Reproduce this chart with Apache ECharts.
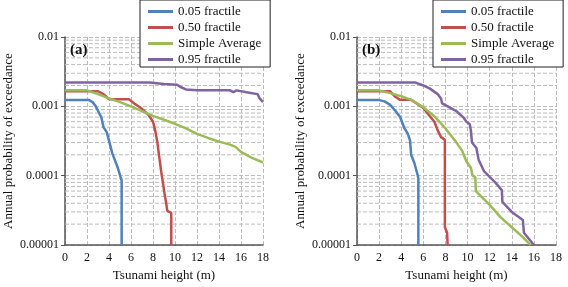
<!DOCTYPE html>
<html>
<head>
<meta charset="utf-8">
<script src="https://cdn.jsdelivr.net/npm/echarts@6/dist/echarts.min.js"></script>
<style>
html, body { margin: 0; padding: 0; background: #fff; }
#main { width: 568px; height: 287px; }
</style>
</head>
<body>
<div id="main"></div>
<script>
// series names / colours (Excel 2007 palette)
var seriesNames = ['0.05 fractile', '0.50 fractile', 'Simple Average', '0.95 fractile'];
var seriesColors = ['#4F81BD', '#C0504D', '#9BBB59', '#8064A2'];

// axis ticks
var yTickLabels = ['0.00001', '0.0001', '0.001', '0.01'];
var yMinorSteps = [2, 3, 4, 5, 6, 7, 8, 9];

// panel (a) : [tsunami height (m), annual probability]
var a05 = [[0, 0.00123], [2.2, 0.00123], [2.5, 0.00115], [2.8, 0.001], [3.1, 0.0008], [3.3, 0.0007],
  [3.5, 0.0005], [3.8, 0.00042], [4.0, 0.00032], [4.3, 0.00021], [4.8, 0.00013], [5.15, 0.000085], [5.15, 0.00001]];
var a50 = [[0, 0.00165], [3, 0.00165], [3.5, 0.0015], [4, 0.00127], [5.8, 0.00127], [6.3, 0.0011], [7, 0.00092],
  [7.6, 0.00075], [8, 0.0006], [8.2, 0.00045], [8.4, 0.0003], [8.6, 0.00017], [8.8, 0.0001], [8.9, 0.00008],
  [9.05, 0.000055], [9.2, 0.00004], [9.3, 0.000031], [9.66, 0.000029], [9.66, 0.00001]];
var aAvg = [[0, 0.0017], [2, 0.0017], [3, 0.0015], [4, 0.0013], [5, 0.00115], [6, 0.001], [7, 0.00085],
  [8, 0.00073], [9, 0.00064], [10, 0.00056], [11, 0.00048], [12, 0.0004], [13, 0.00035], [14, 0.00031],
  [15, 0.00028], [15.5, 0.00026], [16, 0.00022], [16.5, 0.0002], [17, 0.00018], [18, 0.000155]];
var a95 = [[0, 0.0022], [7.7, 0.0022], [9, 0.0021], [10.2, 0.00205], [10.5, 0.0019], [11, 0.00175], [12, 0.0017],
  [15, 0.0017], [15.3, 0.0016], [15.6, 0.0017], [16.5, 0.0016], [17.5, 0.0015], [17.7, 0.0013], [17.9, 0.0012],
  [18, 0.00115]];

// panel (b)
var b05 = [[0, 0.00123], [2, 0.00123], [2.5, 0.00118], [3, 0.00105], [3.5, 0.00085], [3.9, 0.0007], [4.3, 0.00048],
  [4.6, 0.0004], [4.8, 0.00032], [4.9, 0.0002], [5.2, 0.00015], [5.5, 0.0001], [5.55, 0.00009], [5.55, 0.00001]];
var b50 = [[0, 0.00165], [3, 0.00165], [3.4, 0.0014], [3.9, 0.00124], [4.9, 0.00124], [5.4, 0.0011], [6, 0.00095],
  [6.5, 0.00075], [7, 0.0006], [7.3, 0.00045], [7.6, 0.00036], [7.95, 0.00033], [7.95, 0.000018], [8.15, 0.000015],
  [8.2, 0.00001]];
var bAvg = [[0, 0.0017], [2, 0.0017], [3, 0.00155], [4, 0.0014], [5, 0.00122], [6, 0.00097], [7, 0.00072],
  [8, 0.00048], [9, 0.0003], [9.5, 0.00023], [9.9, 0.00016], [10.3, 0.00013], [10.45, 0.0001], [10.7, 0.000095],
  [10.75, 0.00006], [12, 0.000038], [13, 0.000025], [14, 0.000018], [15, 0.000013], [15.7, 0.00001]];
var b95 = [[0, 0.0022], [5.3, 0.0022], [6, 0.002], [6.6, 0.0018], [7.3, 0.0015], [7.6, 0.0013], [7.7, 0.0011],
  [8.2, 0.001], [9, 0.00085], [9.6, 0.0007], [9.9, 0.0006], [10.2, 0.00055], [10.3, 0.00045], [10.4, 0.0003],
  [10.8, 0.00025], [11, 0.00017], [11.5, 0.000115], [12.5, 0.00008], [13.1, 0.000062], [13.15, 0.000042],
  [14, 0.00003], [15, 0.000023], [15.1, 0.000015], [16, 0.00001]];

var serif = 'Liberation Serif';
var gridLine = { color: '#bcbcbc', width: 1, type: [4, 2] };

// minor horizontal grid lines (2..9 x 10^k) drawn as plain dashed series
function minorGridSeries(idx) {
  var out = [];
  for (var k = -5; k <= -3; k++) {
    yMinorSteps.forEach(function (m) {
      var v = m * Math.pow(10, k);
      out.push({
        type: 'line', xAxisIndex: idx, yAxisIndex: idx, silent: true, z: 1,
        data: [[0, v], [18, v]], showSymbol: false, symbol: 'none',
        lineStyle: gridLine, tooltip: { show: false }
      });
    });
  }
  return out;
}

function xAxisFor(idx) {
  return {
    type: 'value', gridIndex: idx, min: 0, max: 18, interval: 2,
    name: 'Tsunami height (m)', nameLocation: 'middle', nameGap: 24,
    nameTextStyle: { fontFamily: serif, fontSize: 13, color: '#111' },
    axisLine: { onZero: false, lineStyle: { color: '#555', width: 1.5 } },
    axisTick: { show: false },
    axisLabel: { fontFamily: serif, fontSize: 12, color: '#111', margin: 7 },
    splitLine: { show: true, lineStyle: gridLine }
  };
}
function yAxisFor(idx) {
  return {
    type: 'log', logBase: 10, gridIndex: idx, min: 0.00001, max: 0.01,
    name: 'Annual probability of exceedance', nameLocation: 'middle', nameGap: 50,
    nameTextStyle: { fontFamily: serif, fontSize: 13, color: '#111' },
    axisLine: { show: true, lineStyle: { color: '#555', width: 1.5 } },
    axisTick: { show: true, length: 4, lineStyle: { color: '#555' } },
    axisLabel: {
      fontFamily: serif, fontSize: 12, color: '#111', margin: 6,
      formatter: function (v) { return yTickLabels[Math.round(Math.log10(v)) + 5]; }
    },
    splitLine: { show: true, lineStyle: gridLine }
  };
}

function makeSeries(idx, datas) {
  return datas.map(function (d, i) {
    return {
      name: seriesNames[i], type: 'line', xAxisIndex: idx, yAxisIndex: idx, z: 3,
      data: d, showSymbol: false, symbol: 'none', smooth: false,
      lineStyle: { color: seriesColors[i], width: 2.5 },
      itemStyle: { color: seriesColors[i] }
    };
  });
}

function legendFor(left) {
  return {
    left: left, top: 0, orient: 'vertical', z: 10,
    backgroundColor: '#fff', borderColor: '#222', borderWidth: 1,
    padding: [5, 9, 1, 8], itemGap: 3,
    icon: 'rect', itemWidth: 25, itemHeight: 3,
    textStyle: { fontFamily: serif, fontSize: 13, color: '#111', lineHeight: 13 },
    data: seriesNames
  };
}

var chart = echarts.init(document.getElementById('main'));
chart.setOption({
  animation: false,
  backgroundColor: '#fff',
  grid: [
    { left: 65, right: 305, top: 37, bottom: 42 },
    { left: 357, right: 12, top: 37, bottom: 42 }
  ],
  xAxis: [xAxisFor(0), xAxisFor(1)],
  yAxis: [yAxisFor(0), yAxisFor(1)],
  legend: [legendFor(140), legendFor(433)],
  graphic: [
    { type: 'text', left: 70, top: 43, z: 5, style: { text: '(a)', fontFamily: serif, fontSize: 15, fontWeight: 'bold', fill: '#111' } },
    { type: 'text', left: 362, top: 43, z: 5, style: { text: '(b)', fontFamily: serif, fontSize: 15, fontWeight: 'bold', fill: '#111' } }
  ],
  series: minorGridSeries(0).concat(minorGridSeries(1))
    .concat(makeSeries(0, [a05, a50, aAvg, a95]))
    .concat(makeSeries(1, [b05, b50, bAvg, b95]))
});
</script>
</body>
</html>
